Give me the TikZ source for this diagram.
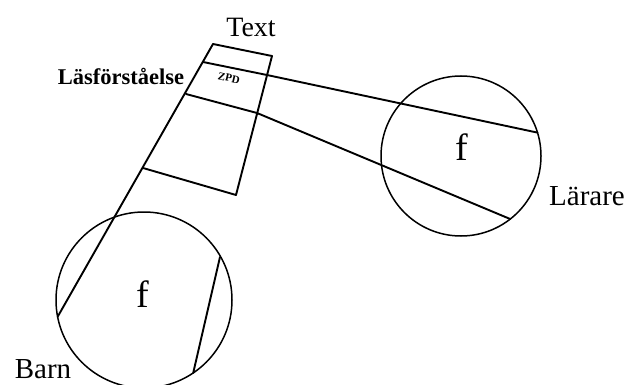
\documentclass[tikz,border=0pt]{standalone}
\usepackage{fontspec}
\setmainfont{Liberation Serif}
\tikzset{
  ln/.style={line width=1.9pt, line cap=round, line join=round},
  ring/.style={circle, draw, line width=1.5pt, inner sep=0pt, outer sep=0pt},
  lbl/.style={inner sep=0pt, font=\fontsize{29}{31}\selectfont},
  ff/.style={inner sep=0pt, font=\fontsize{38}{40}\selectfont},
}
\begin{document}
\begin{tikzpicture}[x=1pt, y=-1pt]
\useasboundingbox (0,0) rectangle (631,385);
% circles
\node[ring, minimum size=176pt] (barn) at (144,300) {};
\node[ring, minimum size=160pt] (larare) at (461,156) {};
\node[ff] (f1) at (143,294) {f};
\node[ff] (f2) at (462,147) {f};
% quadrilateral corners
\coordinate (A) at (213,44);
\coordinate (B) at (272,56);
\coordinate (C) at (236,195);
\coordinate (L2) at (203,62);
\coordinate (R2) at (267,75);
\coordinate (L3) at (186,94);
\coordinate (R3) at (257,113);
\coordinate (L4) at (143,168);
\coordinate (D) at (220,257);
% frame
\draw[ln] (A) -- (B) -- (C) -- (L4);
\draw[ln] (A) -- (barn.191.8);
\draw[ln] (L2) -- (R2) -- (larare.17.3);
\draw[ln] (L3) -- (R3) -- (larare.-52.7);
\draw[ln] (D) -- (barn.-56.3);
% texts
\node[lbl, font=\fontsize{28}{30}\selectfont] (text) at (251,27) {Text};
\node[lbl, font=\fontsize{22.5}{24}\selectfont\bfseries] (las) at (121,76) {Läsförståelse};
\node[lbl, font=\fontsize{11}{12}\selectfont\bfseries, rotate=-13] (zpd) at (229,78) {ZPD};
\node[lbl] (barnlbl) at (43,369) {Barn};
\node[lbl] (lararelbl) at (587,196) {Lärare};
\end{tikzpicture}
\end{document}
